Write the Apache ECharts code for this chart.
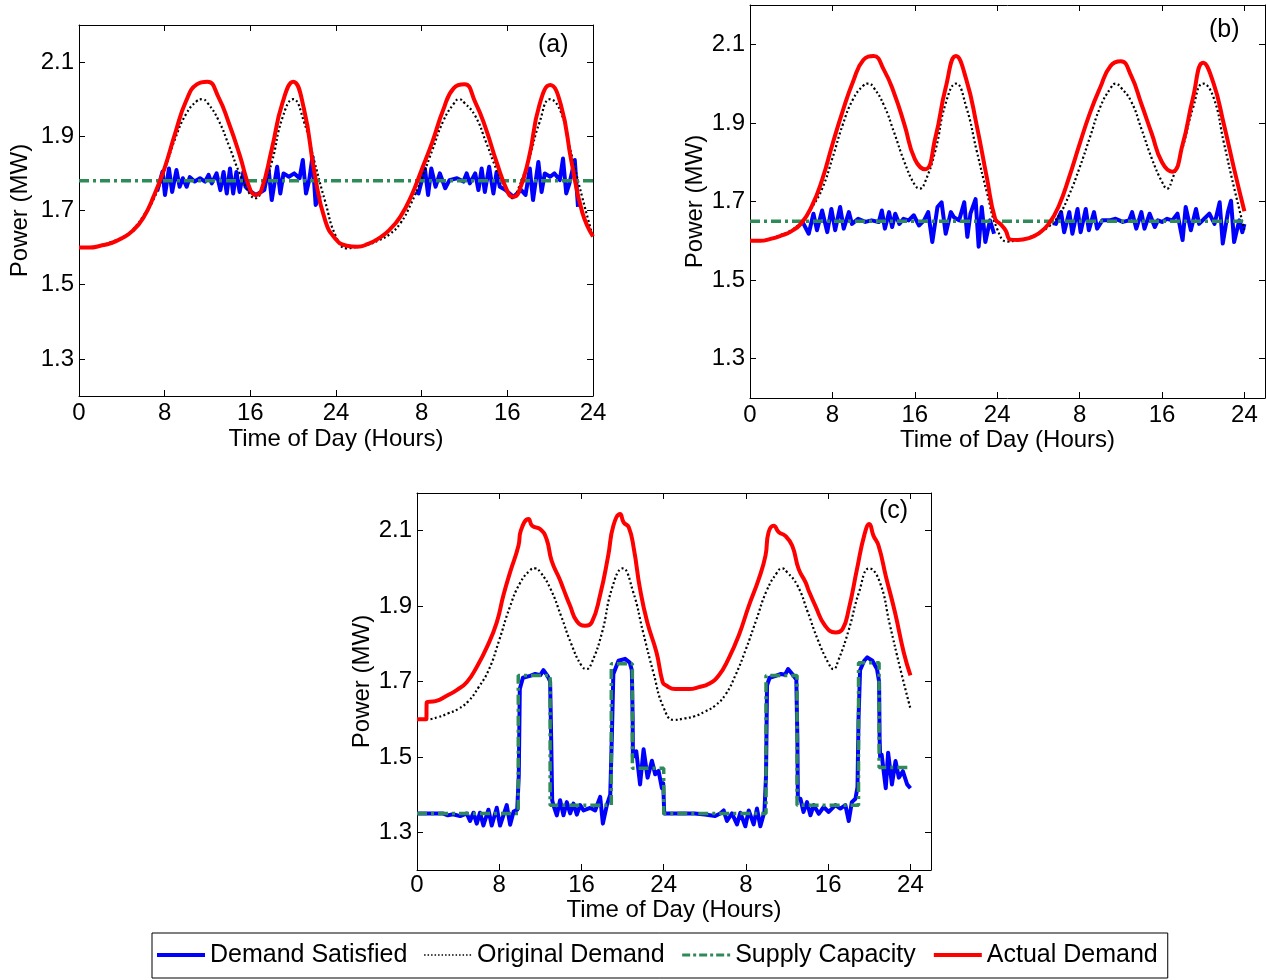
<!DOCTYPE html>
<html><head><meta charset="utf-8">
<script src="https://cdn.jsdelivr.net/npm/echarts@6/dist/echarts.min.js"></script>
<style>html,body{margin:0;padding:0;background:#fff}#chart{width:1267px;height:980px}</style>
</head><body><div id="chart"></div>
<script>
// ---------------- DATA ----------------
const hourTicks = [0, 8, 16, 24, 32, 40, 48];
const hourTickLabels = ['0', '8', '16', '24', '8', '16', '24'];
const powerTicks = [1.3, 1.5, 1.7, 1.9, 2.1];
const panelLabels = ['(a)', '(b)', '(c)'];
const seriesNames = ['Demand Satisfied', 'Original Demand', 'Supply Capacity', 'Actual Demand'];

// Original demand [hour, MW] (same in all panels)
const originalDemand = [[0,1.600],[1,1.600],[2,1.605],[3,1.615],[4,1.627],[5,1.648],[6,1.685],[7,1.732],[8,1.810],[9,1.895],[10,1.960],[11,1.995],[11.5,2.000],[12,1.990],[13,1.945],[14,1.875],[15,1.800],[16,1.742],[16.5,1.733],[17,1.750],[18,1.830],[19,1.950],[20,2.000],[21,1.940],[22,1.830],[23,1.723],[24,1.630],[25,1.598],[26,1.602],[27,1.608],[28,1.620],[29,1.636],[30,1.665],[31,1.718],[32,1.786],[33,1.863],[34,1.940],[35,1.988],[35.5,2.000],[36,1.990],[37,1.955],[38,1.885],[39,1.810],[40,1.750],[40.5,1.733],[41,1.757],[42,1.837],[43,1.937],[44,2.000],[45,1.965],[46,1.850],[47,1.735],[48,1.628]];

// Panel (a)
const actualA = [[0,1.600],[1,1.600],[2,1.605],[3,1.612],[4,1.625],[5,1.645],[6,1.680],[7,1.740],[8,1.815],[9,1.910],[10,1.995],[11,2.040],[12,2.047],[13,2.007],[14,1.935],[15,1.850],[16,1.755],[16.5,1.742],[17,1.752],[18,1.865],[19,1.990],[20,2.047],[21,1.975],[22,1.800],[23,1.672],[24,1.622],[25,1.605],[26,1.602],[27,1.610],[28,1.625],[29,1.648],[30,1.683],[31,1.737],[32,1.810],[33,1.885],[34,1.970],[35,2.030],[36,2.040],[37,1.992],[38,1.920],[39,1.830],[40,1.752],[40.5,1.737],[41,1.745],[42,1.840],[43,1.985],[44,2.038],[45,1.985],[46,1.830],[47,1.695],[48,1.630]];
const supplyA = [[0,1.78],[48,1.78]];
const satisfiedA1 = [[7.3,1.752],[7.8,1.805],[8.03,1.742],[8.4,1.813],[8.7,1.750],[9.1,1.809],[9.4,1.764],[9.7,1.787],[10.05,1.764],[10.35,1.790],[10.8,1.778],[11.3,1.787],[11.77,1.778],[12.1,1.796],[12.4,1.773],[12.85,1.800],[13.2,1.755],[13.5,1.804],[13.8,1.746],[14.1,1.813],[14.4,1.746],[14.7,1.804],[15.0,1.750],[15.35,1.804],[15.55,1.764],[16.0,1.752],[16.5,1.742],[17.0,1.750],[17.3,1.755],[17.7,1.813],[18.0,1.728],[18.5,1.818],[18.8,1.746],[19.1,1.800],[19.6,1.791],[20.1,1.800],[20.6,1.787],[20.9,1.836],[21.2,1.746],[21.5,1.782],[21.8,1.845],[22.1,1.715],[22.5,1.740]];
const satisfiedA2 = [[31.5,1.752],[31.7,1.746],[32.3,1.813],[32.6,1.742],[32.9,1.813],[33.3,1.764],[33.7,1.800],[34.2,1.760],[34.6,1.782],[35.3,1.787],[35.9,1.778],[36.2,1.800],[36.5,1.773],[37.0,1.800],[37.3,1.755],[37.6,1.813],[37.9,1.750],[38.3,1.818],[38.7,1.746],[39.0,1.804],[39.3,1.764],[39.8,1.756],[40.56,1.737],[41.3,1.755],[41.7,1.742],[42.1,1.813],[42.4,1.728],[42.9,1.831],[43.2,1.750],[43.5,1.800],[44.0,1.791],[44.4,1.800],[44.9,1.782],[45.2,1.840],[45.5,1.746],[45.8,1.773],[46.3,1.836],[46.6,1.710]];

// Panel (b)
const actualB = [[0,1.600],[1,1.600],[2,1.605],[3,1.613],[4,1.624],[5,1.645],[6,1.688],[7,1.755],[8,1.845],[9,1.930],[10,2.005],[11,2.060],[12,2.070],[13,2.035],[14,1.975],[15,1.895],[16,1.808],[17,1.782],[18,1.863],[19,1.990],[20,2.070],[21,2.010],[22,1.895],[23,1.760],[23.8,1.656],[24.3,1.643],[24.8,1.627],[25.3,1.603],[26,1.602],[27,1.606],[28,1.618],[29,1.643],[30,1.690],[31,1.763],[32,1.846],[33,1.925],[34,1.990],[35,2.045],[36,2.057],[37,2.020],[38,1.948],[39,1.873],[40,1.800],[41,1.776],[42,1.845],[43,1.963],[44,2.053],[45,2.001],[46,1.897],[47,1.783],[48,1.675]];
const supplyB = [[0,1.65],[48,1.65]];
const satisfiedB1 = [[5.0,1.645],[5.2,1.643],[5.7,1.618],[6.16,1.669],[6.5,1.627],[7.0,1.677],[7.5,1.622],[7.9,1.681],[8.27,1.627],[8.75,1.686],[9.1,1.631],[9.6,1.673],[9.9,1.643],[10.5,1.656],[11.2,1.648],[11.8,1.652],[12.5,1.648],[12.8,1.677],[13.1,1.631],[13.5,1.673],[13.8,1.635],[14.1,1.669],[14.5,1.643],[14.9,1.656],[15.4,1.652],[15.9,1.665],[16.4,1.639],[16.9,1.652],[17.3,1.673],[17.7,1.597],[18.2,1.686],[18.6,1.698],[19.0,1.618],[19.5,1.673],[19.8,1.660],[20.3,1.652],[20.8,1.698],[21.1,1.610],[21.4,1.669],[21.9,1.706],[22.2,1.585],[22.5,1.686],[22.85,1.597],[23.3,1.652],[23.7,1.618]];
const satisfiedB2 = [[29.4,1.645],[29.7,1.643],[30.2,1.673],[30.5,1.622],[31.0,1.673],[31.3,1.618],[31.8,1.681],[32.1,1.622],[32.6,1.681],[32.9,1.627],[33.4,1.673],[33.7,1.631],[34.2,1.652],[34.9,1.652],[35.5,1.656],[36.2,1.648],[36.8,1.652],[37.1,1.673],[37.5,1.631],[38.0,1.673],[38.3,1.631],[38.8,1.669],[39.3,1.635],[39.6,1.652],[40.0,1.648],[40.5,1.656],[41.0,1.652],[41.5,1.669],[42.0,1.602],[42.3,1.686],[42.8,1.627],[43.3,1.681],[43.6,1.643],[44.1,1.656],[44.6,1.669],[45.1,1.643],[45.6,1.698],[45.9,1.593],[46.4,1.673],[46.7,1.702],[47.0,1.597],[47.5,1.652],[47.8,1.622],[48.0,1.643]];

// Panel (c)
const actualC = [[0,1.600],[0.9,1.600],[0.95,1.645],[1.8,1.648],[2.9,1.662],[3.9,1.678],[4.84,1.698],[5.8,1.738],[6.8,1.791],[7.76,1.857],[8.4,1.928],[9.06,1.990],[9.87,2.060],[10.1,2.100],[10.85,2.131],[11.2,2.113],[12.0,2.104],[12.6,2.078],[13.1,2.020],[13.9,1.970],[14.25,1.945],[14.9,1.900],[15.55,1.860],[16.36,1.848],[17.0,1.857],[17.8,1.928],[18.6,2.034],[19.1,2.113],[19.76,2.144],[20.1,2.122],[20.6,2.109],[21.1,2.051],[21.7,1.945],[22.4,1.857],[23.3,1.777],[23.9,1.698],[24.2,1.690],[25.1,1.680],[26.5,1.680],[27.4,1.685],[28.4,1.694],[29.35,1.716],[30.3,1.760],[31.3,1.822],[32.27,1.900],[33.25,1.972],[33.9,2.034],[34.2,2.096],[34.7,2.113],[35.2,2.096],[35.8,2.087],[36.5,2.060],[37.13,1.998],[37.8,1.963],[38.1,1.941],[38.76,1.900],[39.7,1.848],[40.7,1.830],[41.4,1.839],[42.0,1.892],[42.8,1.998],[43.5,2.087],[44.0,2.118],[44.4,2.087],[44.9,2.060],[45.6,1.980],[46.5,1.883],[47.35,1.777],[48.0,1.716]];
const supplyC = [[0,1.350],[9.85,1.350],[9.85,1.716],[12.95,1.716],[12.95,1.372],[18.9,1.372],[18.9,1.747],[20.95,1.747],[20.95,1.470],[24.0,1.470],[24.0,1.350],[33.95,1.350],[33.95,1.716],[36.97,1.716],[36.97,1.372],[42.95,1.372],[42.95,1.750],[44.95,1.750],[44.95,1.472],[48,1.472]];
const satisfiedC = [[0,1.350],[2.5,1.350],[3,1.345],[3.5,1.348],[4.2,1.343],[4.84,1.350],[5.16,1.330],[5.49,1.352],[5.81,1.323],[6.13,1.352],[6.46,1.318],[6.95,1.360],[7.27,1.318],[7.76,1.365],[8.08,1.318],[8.73,1.372],[9.06,1.320],[9.4,1.355],[9.75,1.360],[9.9,1.450],[10.0,1.680],[10.3,1.710],[11.0,1.715],[11.5,1.720],[12.0,1.717],[12.3,1.730],[12.7,1.715],[12.95,1.700],[13.05,1.550],[13.15,1.385],[13.27,1.372],[13.6,1.345],[13.92,1.385],[14.25,1.345],[14.57,1.380],[14.9,1.350],[15.22,1.376],[15.55,1.347],[15.87,1.372],[16.2,1.358],[16.85,1.365],[17.33,1.358],[17.82,1.394],[18.08,1.323],[18.47,1.372],[18.8,1.400],[18.95,1.550],[19.1,1.720],[19.6,1.755],[20.24,1.760],[20.7,1.750],[20.9,1.730],[20.98,1.600],[21.0,1.500],[21.33,1.515],[21.7,1.427],[22.04,1.520],[22.43,1.445],[22.85,1.490],[23.17,1.454],[23.5,1.463],[23.82,1.417],[23.95,1.430],[24.05,1.350],[24.2,1.350],[27.0,1.350],[28.0,1.347],[29.0,1.343],[29.5,1.350],[29.83,1.358],[30.15,1.330],[30.64,1.350],[31.13,1.321],[31.45,1.352],[31.94,1.316],[32.27,1.358],[32.75,1.321],[33.07,1.363],[33.4,1.316],[33.8,1.355],[33.95,1.450],[34.05,1.690],[34.3,1.710],[34.9,1.715],[35.4,1.720],[35.8,1.718],[36.1,1.733],[36.5,1.720],[36.9,1.705],[37.0,1.550],[37.05,1.390],[37.3,1.389],[37.6,1.354],[37.94,1.380],[38.27,1.345],[38.6,1.372],[39.08,1.349],[39.56,1.367],[40.05,1.354],[40.7,1.372],[41.18,1.363],[41.67,1.372],[42.0,1.330],[42.3,1.380],[42.65,1.389],[42.85,1.420],[42.95,1.600],[43.1,1.730],[43.5,1.755],[43.8,1.764],[44.3,1.755],[44.75,1.733],[44.95,1.700],[45.0,1.550],[45.05,1.500],[45.2,1.506],[45.6,1.417],[45.83,1.511],[46.2,1.427],[46.55,1.489],[46.87,1.445],[47.26,1.462],[47.68,1.427],[48.0,1.417]];

// ---------------- STYLE / LAYOUT ----------------
const FONT = '"Liberation Sans", Arial, sans-serif';
const C_SAT = '#0000ff', C_ORIG = '#000000', C_SUP = '#2e8b57', C_ACT = '#ff0000';
const DOT = [2, 2.5], DASHDOT = [10, 4, 3, 4];

const panels = [
  { grid: { left: 79, top: 25, width: 514, height: 371 }, xMax: 48, yGap: 47, xGap: 31, xMargin: 5,
    label: { left: 538, top: 33 },
    satisfied: [satisfiedA1, satisfiedA2], supply: supplyA, actual: actualA },
  { grid: { left: 750, top: 5, width: 515, height: 393 }, xMax: 50, yGap: 43, xGap: 29, xMargin: 5,
    label: { left: 1209, top: 18 },
    satisfied: [satisfiedB1, satisfiedB2], supply: supplyB, actual: actualB },
  { grid: { left: 417, top: 493, width: 514, height: 377 }, xMax: 50, yGap: 42, xGap: 27, xMargin: 3,
    label: { left: 879, top: 499 },
    satisfied: [satisfiedC], supply: supplyC, actual: actualC }
];

const axisText = { fontSize: 24, fontFamily: FONT, color: '#000' };
const lineAx = { show: true, onZero: false, lineStyle: { color: '#000', width: 1 } };

const grids = [], xAxes = [], yAxes = [], series = [], titles = [];
panels.forEach((p, i) => {
  grids.push(Object.assign({ containLabel: false }, p.grid));
  xAxes.push({
    type: 'value', gridIndex: i, position: 'bottom', min: 0, max: p.xMax,
    axisLine: lineAx, splitLine: { show: false },
    axisTick: { show: true, inside: true, length: 6, customValues: hourTicks, lineStyle: { color: '#000' } },
    axisLabel: { show: true, customValues: hourTicks, margin: p.xMargin, ...axisText,
      formatter: v => hourTickLabels[hourTicks.indexOf(v)] },
    name: 'Time of Day (Hours)', nameLocation: 'middle', nameGap: p.xGap,
    nameTextStyle: { ...axisText }
  });
  xAxes.push({
    type: 'value', gridIndex: i, position: 'top', min: 0, max: p.xMax,
    axisLine: lineAx, splitLine: { show: false },
    axisTick: { show: true, inside: true, length: 6, customValues: hourTicks, lineStyle: { color: '#000' } },
    axisLabel: { show: false }
  });
  yAxes.push({
    type: 'value', gridIndex: i, position: 'left', min: 1.2, max: 2.2,
    axisLine: lineAx, splitLine: { show: false },
    axisTick: { show: true, inside: true, length: 6, customValues: powerTicks, lineStyle: { color: '#000' } },
    axisLabel: { show: true, customValues: powerTicks, margin: 5, ...axisText, formatter: v => v.toFixed(1) },
    name: 'Power (MW)', nameLocation: 'middle', nameGap: p.yGap, nameRotate: 90,
    nameTextStyle: { ...axisText }
  });
  yAxes.push({
    type: 'value', gridIndex: i, position: 'right', min: 1.2, max: 2.2,
    axisLine: lineAx, splitLine: { show: false },
    axisTick: { show: true, inside: true, length: 6, customValues: powerTicks, lineStyle: { color: '#000' } },
    axisLabel: { show: false }
  });
  const xi = 2 * i, yi = 2 * i;
  const base = { type: 'line', xAxisIndex: xi, yAxisIndex: yi, symbol: 'none', silent: true, animation: false };
  p.satisfied.forEach(seg => series.push({ ...base, name: seriesNames[0], data: seg, z: 2,
    lineStyle: { color: C_SAT, width: 4, join: 'round' }, itemStyle: { color: C_SAT } }));
  series.push({ ...base, name: seriesNames[1], data: originalDemand, z: 3, smooth: 0.5,
    lineStyle: { color: C_ORIG, width: 2.2, type: DOT }, itemStyle: { color: C_ORIG } });
  series.push({ ...base, name: seriesNames[2], data: p.supply, z: 4,
    lineStyle: { color: C_SUP, width: 3.5, type: DASHDOT }, itemStyle: { color: C_SUP } });
  series.push({ ...base, name: seriesNames[3], data: p.actual, z: 5, smooth: 0.5,
    lineStyle: { color: C_ACT, width: 4, join: 'round' }, itemStyle: { color: C_ACT } });
  titles.push({ text: panelLabels[i], left: p.label.left, top: p.label.top, padding: 0,
    textStyle: { fontSize: 25, fontWeight: 'normal', fontFamily: FONT, color: '#000' } });
});

const option = {
  animation: false,
  backgroundColor: '#fff',
  title: titles,
  grid: grids,
  xAxis: xAxes,
  yAxis: yAxes,
  legend: {
    left: 152, top: 933, orient: 'horizontal',
    padding: [7, 10, 8, 3], itemGap: 16, itemWidth: 48, itemHeight: 14,
    borderColor: '#000', borderWidth: 1, backgroundColor: '#fff',
    selectedMode: false,
    itemStyle: { opacity: 0 },
    textStyle: { fontSize: 25, fontFamily: FONT, color: '#000', lineHeight: 30 },
    data: [
      { name: seriesNames[0], lineStyle: { color: C_SAT, width: 4, type: 'solid' } },
      { name: seriesNames[1], lineStyle: { color: C_ORIG, width: 1.5, type: [1.5, 2] } },
      { name: seriesNames[2], lineStyle: { color: C_SUP, width: 3, type: [8, 3, 3, 3] } },
      { name: seriesNames[3], lineStyle: { color: C_ACT, width: 4, type: 'solid' } }
    ]
  },
  series: series
};

const chart = echarts.init(document.getElementById('chart'), null, { renderer: 'canvas' });
chart.setOption(option);
</script></body></html>
